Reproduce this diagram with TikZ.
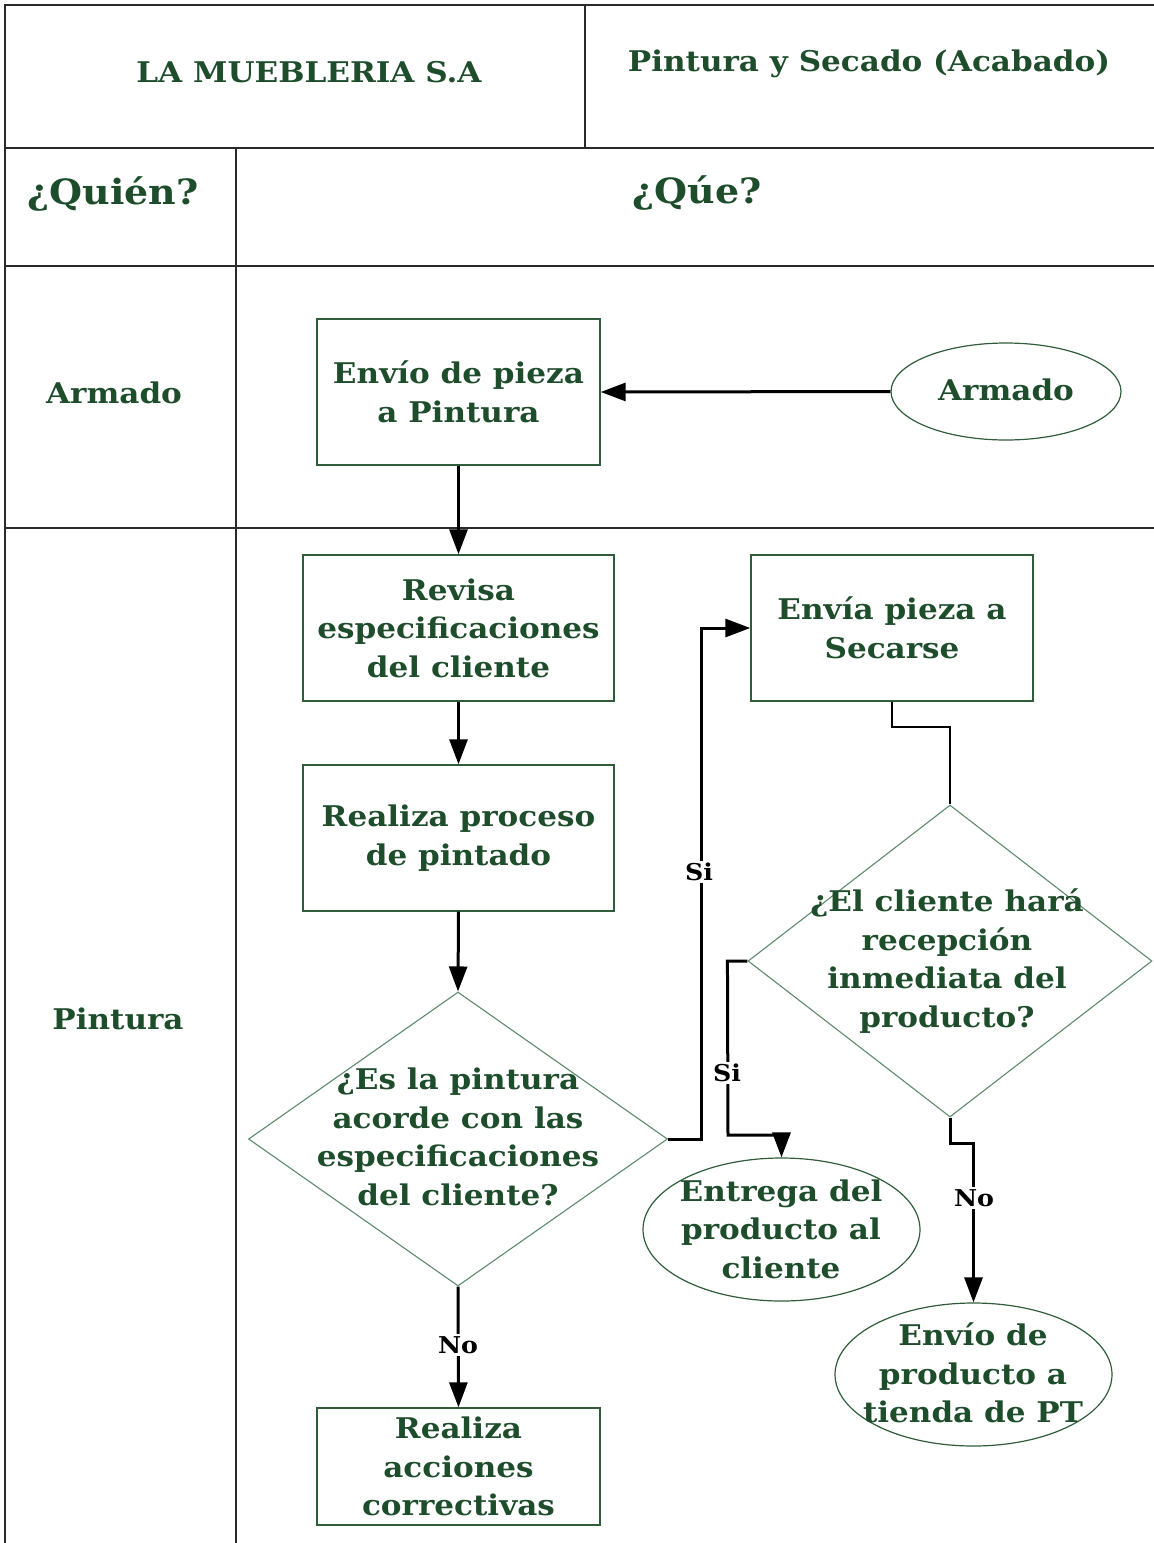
\documentclass[tikz,border=0pt]{standalone}
\usepackage{fontspec}
\setmainfont{DejaVu Serif}[FakeStretch=1.09]
\usetikzlibrary{shapes.geometric,arrows.meta}
\definecolor{txtgreen}{HTML}{1E4D2B}
\definecolor{boxgreen}{HTML}{2F5D3A}
\definecolor{diagreen}{HTML}{5E8A6C}
\definecolor{rulegray}{HTML}{2A2A2A}
\begin{document}
\begin{tikzpicture}[x=1pt,y=-1pt,
  every node/.style={align=center, text=txtgreen},
  bodytext/.style={font=\fontsize{28.5}{38.5}\selectfont\bfseries},
  headtext/.style={font=\fontsize{28.5}{30}\selectfont\bfseries},
  bigtext/.style={font=\fontsize{34.8}{36}\selectfont\bfseries},
  tablerule/.style={draw=rulegray, line width=1.6pt},
  procbox/.style={draw=boxgreen, line width=1.4pt, rectangle, inner sep=0pt, bodytext},
  termshape/.style={draw=boxgreen, line width=1.2pt, ellipse, inner sep=0pt},
  decshape/.style={draw=diagreen, line width=1.1pt, diamond, inner sep=0pt},
  flow/.style={draw=black, line width=3pt, -{Triangle[length=25pt,width=18pt]}},
  plainlink/.style={draw=black, line width=1.6pt},
  answer/.style={fill=white, text=black, inner sep=2pt, font=\fontsize{23.2}{24}\selectfont\bfseries},
]
\useasboundingbox (0,0) rectangle (1154,1543);

% table frame
\draw[tablerule] (5,1543) -- (5,5) -- (1154,5);
\draw[tablerule] (585,5) -- (585,148);
\draw[tablerule] (5,148) -- (1154,148);
\draw[tablerule] (236,148) -- (236,1543);
\draw[tablerule] (5,266) -- (1154,266);
\draw[tablerule] (5,528) -- (1154,528);

% headings
\node[headtext] (company) at (309,72) {LA MUEBLERIA S.A};
\node[headtext] (process) at (869,64) {Pintura y Secado (Acabado)};
\node[bigtext] (who) at (113,194) {¿Quién?};
\node[bigtext] (what) at (697,193) {¿Qúe?};
\node[bodytext] (laneA) at (114,393) {Armado};
\node[bodytext] (laneP) at (118,1019) {Pintura};

% process boxes
\node[procbox, minimum width=283pt, minimum height=146pt] (b1) at (458.5,392) {Envío de pieza\\a Pintura};
\node[procbox, minimum width=311pt, minimum height=146pt] (b2) at (458.5,628) {Revisa\\especificaciones\\del cliente};
\node[procbox, minimum width=311pt, minimum height=146pt] (b3) at (458.5,838) {Realiza proceso\\de pintado};
\node[procbox, minimum width=283pt, minimum height=117pt] (b4) at (458.5,1466.5) {Realiza\\acciones\\correctivas};
\node[procbox, minimum width=282pt, minimum height=146pt] (b5) at (892,628) {Envía pieza a\\Secarse};

% terminals
\node[termshape, minimum width=230pt, minimum height=97pt] (arm) at (1006,391.5) {};
\node[bodytext] (armT) at (1006,390) {Armado};
\node[termshape, minimum width=277pt, minimum height=143pt] (e2) at (781.5,1229.5) {};
\node[bodytext] (e2T) at (781,1229) {Entrega del\\producto al\\cliente};
\node[termshape, minimum width=277pt, minimum height=143pt] (e3) at (973.5,1374.5) {};
\node[bodytext] (e3T) at (973,1373) {Envío de\\producto a\\tienda de PT};

% decisions
\node[decshape, minimum width=419pt, minimum height=294pt] (d1) at (458,1139) {};
\node[bodytext] (d1T) at (458,1137) {¿Es la pintura\\acorde con las\\especificaciones\\del cliente?};
\node[decshape, minimum width=404pt, minimum height=312pt] (d2) at (950,961) {};
\node[bodytext] (d2T) at (947,961) {¿El cliente hará\\recepción\\inmediata del\\producto?};

% connectors
\draw[flow] (arm.west) -- (b1.east);
\draw[flow] (b1.south) -- (b2.north);
\draw[flow] (b2.south) -- (b3.north);
\draw[flow] (b3.south) -- (d1.north);
\draw[flow] (d1.south) -- (b4.north);
\draw[flow] (d1.east) -- ++(33,0) |- (b5.west);
\draw[plainlink] (b5.south) -- ++(0,25) -| (d2.north);
\draw[flow] (d2.west) -- ++(-20,0) -- (728,1135) -| (e2.north);
\draw[flow] (d2.south) -- ++(0,26) -| (e3.north);

% branch answers
\node[answer] (noA) at (458,1345) {No};
\node[answer] (siA) at (699,872) {Si};
\node[answer] (siB) at (727,1073) {Si};
\node[answer] (noB) at (974,1198) {No};
\end{tikzpicture}
\end{document}
